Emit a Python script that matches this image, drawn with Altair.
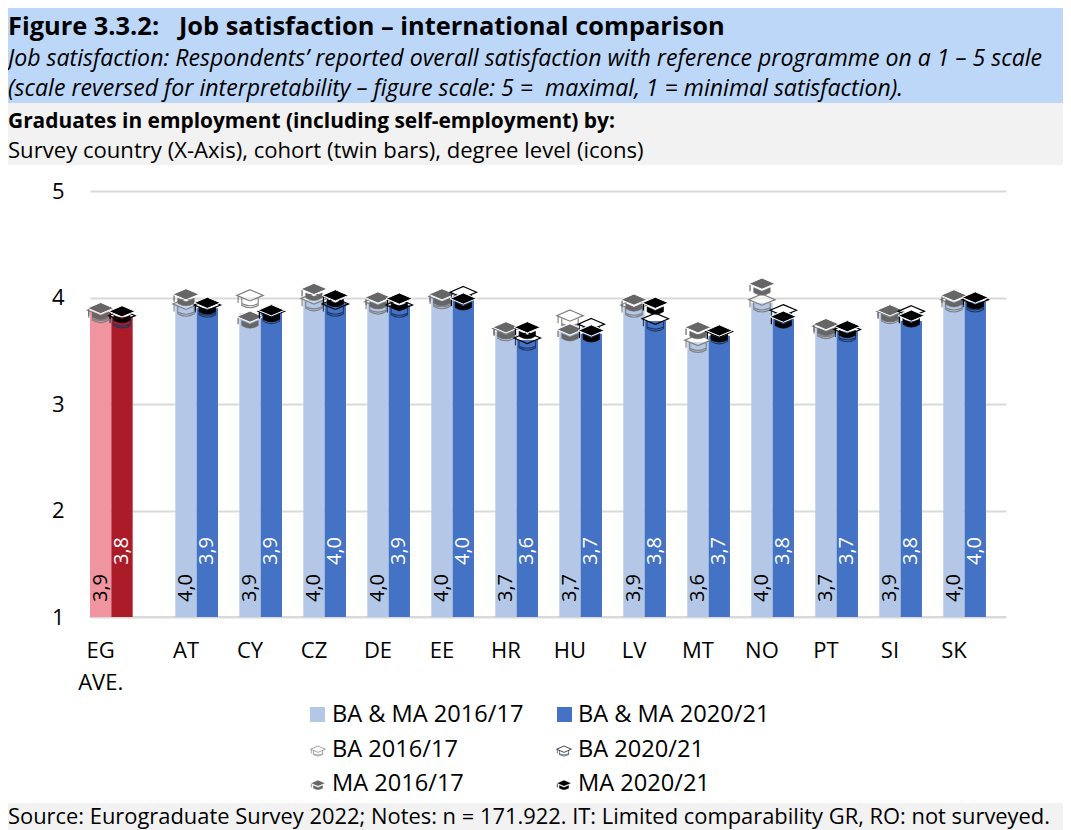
import altair as alt
import pandas as pd

countries = ["EG\nAVE.", "AT", "CY", "CZ", "DE", "EE", "HR", "HU", "LV", "MT", "NO", "PT", "SI", "SK"]
bar_2016 = [3.88, 3.95, 3.85, 3.98, 3.96, 4.01, 3.68, 3.68, 3.91, 3.58, 3.95, 3.71, 3.85, 3.97]
bar_2020 = [3.82, 3.90, 3.86, 3.95, 3.93, 3.98, 3.60, 3.66, 3.78, 3.64, 3.80, 3.68, 3.78, 3.96]
lab_2016 = ["3,9", "4,0", "3,9", "4,0", "4,0", "4,0", "3,7", "3,7", "3,9", "3,6", "4,0", "3,7", "3,9", "4,0"]
lab_2020 = ["3,8", "3,9", "3,9", "4,0", "3,9", "4,0", "3,6", "3,7", "3,8", "3,7", "3,8", "3,7", "3,8", "4,0"]
ba_2016 = [3.85, 3.91, 3.99, 3.96, 3.93, 3.98, 3.68, 3.80, 3.90, 3.57, 3.95, 3.70, 3.84, 3.95]
ma_2016 = [3.87, 4.00, 3.79, 4.05, 3.97, 4.00, 3.69, 3.67, 3.95, 3.69, 4.10, 3.72, 3.85, 3.99]
ba_2020 = [3.80, 3.90, 3.84, 3.91, 3.90, 4.02, 3.59, 3.72, 3.77, 3.65, 3.85, 3.67, 3.84, 3.95]
ma_2020 = [3.84, 3.92, 3.85, 3.99, 3.96, 3.96, 3.69, 3.66, 3.92, 3.66, 3.79, 3.70, 3.80, 3.97]

UNIT_SPAN = 42.94
slots = [0] + [4 + 3 * i for i in range(13)]

rows = []
for i, c in enumerate(countries):
    s = slots[i]
    eg = i == 0
    rows.append(dict(c=c, x=s, x2=s + 1, xm=s + 0.5, v=bar_2016[i], lab=lab_2016[i], col="#F0959F" if eg else "#B4C7E7", tc="#000000", cohort="a"))
    rows.append(dict(c=c, x=s + 1, x2=s + 2, xm=s + 1.5, v=bar_2020[i], lab=lab_2020[i], col="#AB1C28" if eg else "#4472C4", tc="#FFFFFF", cohort="b"))
bars = pd.DataFrame(rows)

FONT = "Open Sans"
xs = alt.Scale(domain=[0, UNIT_SPAN], nice=False, zero=False)
ys = alt.Scale(domain=[1, 5], nice=False, zero=False)
y_axis = alt.Axis(values=[1, 2, 3, 4, 5], title=None, domain=False, ticks=False, grid=True,
                  gridColor="#D9D9D9", gridWidth=2, labelFontSize=22,
                  labelColor="#000000", labelFont=FONT, labelPadding=26, format="d")
X = alt.X("x:Q", scale=xs, axis=None)
Y = alt.Y("v:Q", scale=ys, axis=y_axis)

base_line = alt.Chart(pd.DataFrame({"v": [1]})).mark_rule(color="#D9D9D9", strokeWidth=2).encode(
    y=Y, x=alt.value(0), x2=alt.value(916))

bar_layer = alt.Chart(bars).mark_bar(opacity=1).encode(
    x=X, x2="x2:Q", y=Y, y2=alt.Y2(datum=1),
    color=alt.Color("col:N", scale=None))

BOARD = "M0,-0.67 L1,-0.24 L0,0.18 L-1,-0.24 Z"
BASE = "M-0.62,0.06 L0,0.33 L0.62,0.06 L0.62,0.43 Q0,0.83 -0.62,0.43 Z"
LINE = "M-0.62,-0.02 L-0.62,0.5 Q0,0.88 0.62,0.5 L0.62,-0.02 M-0.62,0.38 Q0,0.7 0.62,0.38 M-0.9,-0.17 L-0.9,0.33"
TASSEL = "M-0.9,-0.17 L-0.9,0.33"
ICON_SIZE = 700
LEG_SIZE = 220


def cap_marks(kind, size):
    w = 1.0 if size > 300 else 0.6
    if kind in ("ba2016", "ba2020"):
        col = "#7F7F7F" if kind == "ba2016" else "#000000"
        line = "#7F7F7F" if kind == "ba2016" else "#1F3864"
        alpha = 0.3 if kind == "ba2016" else 0.05
        return [
            dict(shape=LINE, filled=False, stroke=line, strokeWidth=w * 1.1),
            dict(shape=BOARD, filled=True, fill="#FFFFFF", fillOpacity=alpha, stroke=col, strokeWidth=w * 1.2),
        ]
    colr = "#666666" if kind == "ma2016" else "#000000"
    return [
        dict(shape=BASE, filled=True, fill=colr, stroke=colr, strokeWidth=w * 0.6),
        dict(shape=TASSEL, filled=False, stroke=colr, strokeWidth=w * 1.2),
        dict(shape=BOARD, filled=True, fill=colr, stroke="#FFFFFF", strokeWidth=w),
    ]


def cap_layers(vals, off, kind):
    d = pd.DataFrame({"x": [s + off for s in slots], "v": vals})
    return [alt.Chart(d).mark_point(size=ICON_SIZE, opacity=1, **m).encode(x=X, y=Y) for m in cap_marks(kind, ICON_SIZE)]


def legend_cap(px_x, px_y, kind):
    d = pd.DataFrame({"a": [0]})
    return [alt.Chart(d).mark_point(size=LEG_SIZE, opacity=1, **m).encode(x=alt.value(px_x - 90), y=alt.value(px_y - 191)) for m in cap_marks(kind, LEG_SIZE)]


caps = (cap_layers(ba_2016, 0.5, "ba2016") + cap_layers(ma_2016, 0.5, "ma2016")
        + cap_layers(ba_2020, 1.5, "ba2020") + cap_layers(ma_2020, 1.5, "ma2020"))


def bar_text(cohort, shift):
    return alt.Chart(bars[bars.cohort == cohort]).mark_text(
        angle=270, align="left", baseline="middle", fontSize=20, font=FONT, dx=shift).encode(
        x=alt.X("xm:Q", scale=xs, axis=None), y=alt.Y(datum=1, scale=ys, axis=y_axis),
        text="lab:N", color=alt.Color("tc:N", scale=None))


bar_labels = [bar_text("a", 15), bar_text("b", 52)]

x_lab_df = pd.DataFrame({"x": [s + 0.5 for s in slots], "lab": [c.split("\n") for c in countries]})
x_labels = alt.Chart(x_lab_df).mark_text(fontSize=22, font=FONT, baseline="top", lineHeight=32, color="#000000", align="center").encode(
    x=alt.X("x:Q", scale=xs, axis=None), y=alt.value(641 - 191), text="lab:N")


def block(x0, x1, y0, y1, col):
    return alt.Chart(pd.DataFrame({"a": [0]})).mark_rect(color=col).encode(
        x=alt.value(x0 - 90), x2=alt.value(x1 - 90), y=alt.value(y0 - 191), y2=alt.value(y1 - 191))


def label(txt, x, y, size=20, bold=False, italic=False, col="#000000"):
    return alt.Chart(pd.DataFrame({"t": [txt]})).mark_text(
        align="left", baseline="alphabetic", fontSize=size, font=FONT, color=col,
        fontWeight="bold" if bold else "normal", fontStyle="italic" if italic else "normal").encode(
        x=alt.value(x - 90), y=alt.value(y - 191), text="t:N")


panels = [
    block(8, 1063, 8, 103, "#BDD7F9"),
    block(8, 1063, 103, 165, "#F2F2F2"),
    block(8, 1063, 803, 830, "#F2F2F2"),
    label("Figure 3.3.2:\u00a0\u00a0\u00a0Job satisfaction – international comparison", 8, 35, 25.4, bold=True),
    label("Job satisfaction: Respondents’ reported overall satisfaction with reference programme on a 1 – 5 scale", 8, 66, 23.1, italic=True),
    label("(scale reversed for interpretability – figure scale: 5 =\u00a0\u00a0maximal, 1 = minimal satisfaction).", 8, 96, 23.1, italic=True),
    label("Graduates in employment (including self-employment) by:", 8, 128, 20.9, bold=True),
    label("Survey country (X-Axis), cohort (twin bars), degree level (icons)", 8, 158, 22.1),
    label("Source: Eurograduate Survey 2022; Notes: n = 171.922. IT: Limited comparability GR, RO: not surveyed.", 8, 823.5, 21.9),
    label("BA & MA 2016/17", 332, 722, 23.6),
    label("BA & MA 2020/21", 578, 722, 23.6),
    label("BA 2016/17", 332, 757, 23.6),
    label("BA 2020/21", 578, 757, 23.6),
    label("MA 2016/17", 332, 791, 23.6),
    label("MA 2020/21", 578, 791, 23.6),
    block(310, 325, 707, 722, "#B4C7E7"),
    block(557, 572, 707, 722, "#4472C4"),
]
legend_caps = (legend_cap(318, 751, "ba2016") + legend_cap(564, 751, "ba2020")
               + legend_cap(318, 785, "ma2016") + legend_cap(564, 785, "ma2020"))

chart = alt.layer(base_line, bar_layer, *bar_labels, *caps, x_labels, *panels, *legend_caps).properties(
    width=916, height=426,
    padding={"left": 82, "top": 183, "right": 57, "bottom": 213},
    autosize=alt.AutoSizeParams(type="none"),
).configure_view(stroke=None)

chart.save("out.html", embed_options={"renderer": "svg", "actions": False})
